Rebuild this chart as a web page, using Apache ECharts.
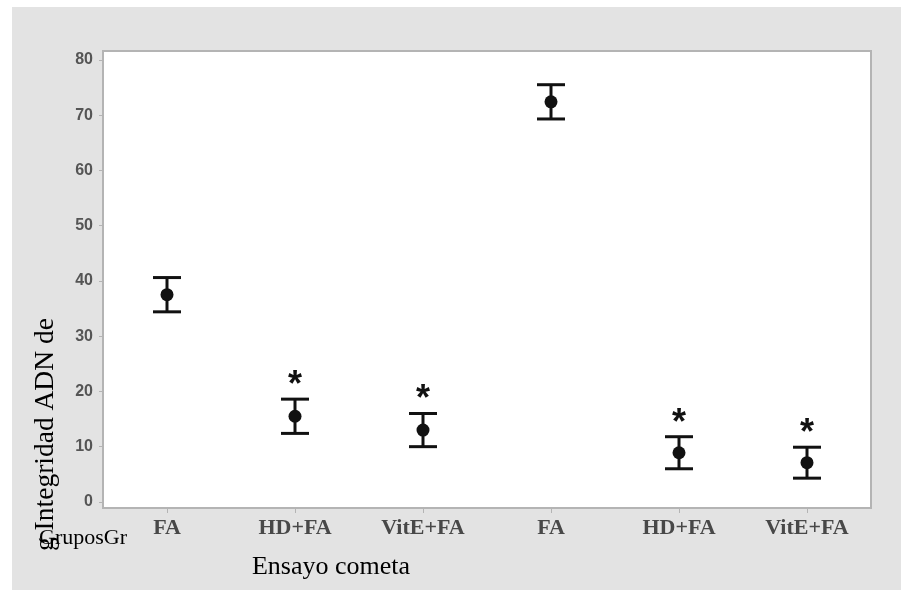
<!DOCTYPE html>
<html>
<head>
<meta charset="utf-8">
<script src="https://cdn.jsdelivr.net/npm/echarts@6/dist/echarts.min.js"></script>
<style>
  html, body { margin: 0; padding: 0; background: #ffffff; }
  #chart { width: 901px; height: 592px; }
</style>
</head>
<body>
<div id="chart"></div>
<script>
// Groups along the x axis (two blocks of the same three treatments)
const groups = ['FA', 'HD+FA', 'VitE+FA', 'FA', 'HD+FA', 'VitE+FA'];
// Mean value per group
const means = [37.5, 15.5, 13.0, 72.4, 8.9, 7.1];
// Half-width of the error interval per group
const errors = [3.1, 3.1, 3.0, 3.1, 2.9, 2.8];
// Groups marked with an asterisk
const significant = [false, true, true, false, true, true];
// Y axis tick values
const yTicks = [0, 10, 20, 30, 40, 50, 60, 70, 80];

const seriesData = groups.map((g, i) => [i, means[i], errors[i], significant[i] ? 1 : 0]);

const ink = '#111111';

function renderItem(params, api) {
  const idx = api.value(0);
  const mean = api.value(1);
  const err = api.value(2);
  const sig = api.value(3);
  const c = api.coord([idx, mean]);
  const hi = api.coord([idx, mean + err]);
  const lo = api.coord([idx, mean - err]);
  const capHalf = 14;
  const lineStyle = { stroke: ink, lineWidth: 3 };
  const children = [
    { type: 'line', shape: { x1: c[0], y1: hi[1], x2: c[0], y2: lo[1] }, style: lineStyle },
    { type: 'line', shape: { x1: c[0] - capHalf, y1: hi[1], x2: c[0] + capHalf, y2: hi[1] }, style: lineStyle },
    { type: 'line', shape: { x1: c[0] - capHalf, y1: lo[1], x2: c[0] + capHalf, y2: lo[1] }, style: lineStyle },
    { type: 'circle', shape: { cx: c[0], cy: c[1], r: 6.5 }, style: { fill: ink } }
  ];
  if (sig) {
    children.push({
      type: 'text',
      x: c[0], y: hi[1] - 13,
      style: {
        text: '*', fill: ink,
        font: 'bold 36px "Liberation Sans"',
        textAlign: 'center', textVerticalAlign: 'middle'
      }
    });
  }
  return { type: 'group', children };
}

const chart = echarts.init(document.getElementById('chart'));
chart.setOption({
  backgroundColor: '#ffffff',
  animation: false,
  graphic: [
    {
      type: 'rect', z: -10, silent: true,
      shape: { x: 12, y: 7, width: 889, height: 583 },
      style: { fill: '#e3e3e3' }
    },
    {
      type: 'text', x: 46, y: 551, rotation: Math.PI / 2,
      style: {
        text: 'g Integridad ADN de', fill: '#000',
        font: '27.5px "Liberation Serif"',
        textAlign: 'left', textVerticalAlign: 'middle'
      }
    },
    {
      type: 'text', x: 39, y: 538,
      style: {
        text: 'GruposGr', fill: '#000',
        font: '22px "Liberation Serif"',
        textAlign: 'left', textVerticalAlign: 'middle'
      }
    },
    {
      type: 'text', x: 331, y: 567,
      style: {
        text: 'Ensayo cometa', fill: '#000',
        font: '26px "Liberation Serif"',
        textAlign: 'center', textVerticalAlign: 'middle'
      }
    }
  ],
  grid: {
    left: 103, right: 30, top: 51, bottom: 84,
    show: true, backgroundColor: '#ffffff',
    borderColor: '#b4b4b4', borderWidth: 2
  },
  xAxis: {
    type: 'category',
    data: groups,
    boundaryGap: true,
    axisLine: { show: true, onZero: false, lineStyle: { color: '#b4b4b4', width: 2 } },
    axisTick: { show: true, alignWithLabel: true, length: 5, lineStyle: { color: '#b4b4b4' } },
    axisLabel: {
      margin: 9, color: '#484848',
      fontFamily: 'Liberation Serif', fontWeight: 'bold', fontSize: 22
    },
    splitLine: { show: false }
  },
  yAxis: {
    type: 'value',
    min: -1.1, max: 81.6,
    axisLine: { show: true, lineStyle: { color: '#b4b4b4', width: 2 } },
    axisTick: { show: true, length: 4, customValues: yTicks, lineStyle: { color: '#b4b4b4' } },
    axisLabel: {
      customValues: yTicks, margin: 10, color: '#555555',
      fontFamily: 'Liberation Sans', fontWeight: 'bold', fontSize: 16
    },
    splitLine: { show: false }
  },
  series: [{
    type: 'custom',
    renderItem: renderItem,
    data: seriesData,
    encode: { x: 0, y: 1 },
    clip: false
  }]
});
</script>
</body>
</html>
